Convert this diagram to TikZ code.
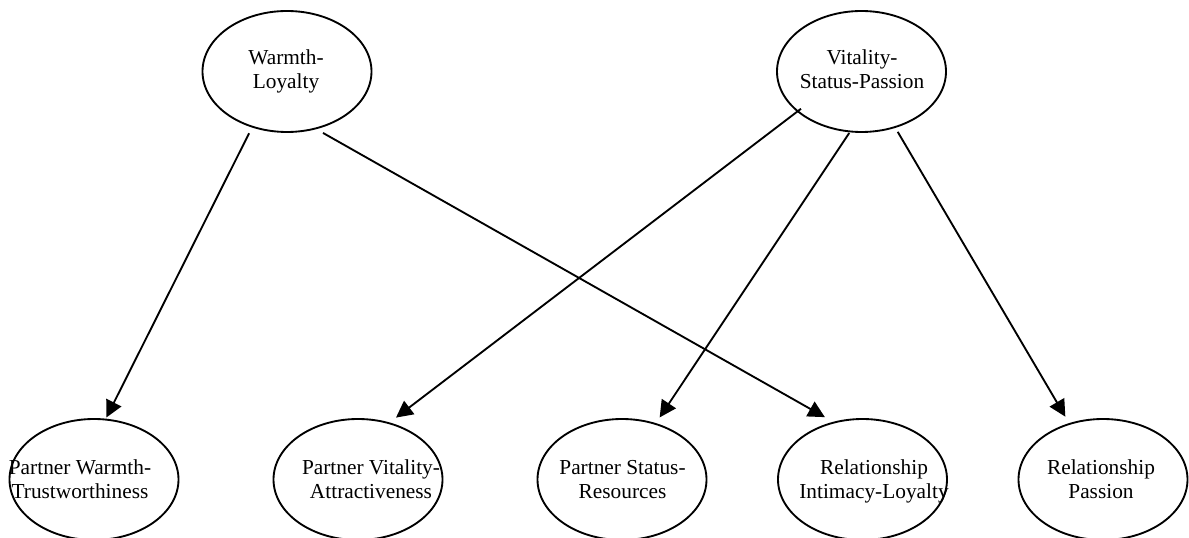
\documentclass[tikz,border=0pt]{standalone}
\usepackage{fontspec}
\setmainfont{Liberation Serif}
\usetikzlibrary{shapes.geometric,arrows.meta}
\begin{document}
\begin{tikzpicture}[x=0.75pt,y=-0.75pt,
  factor/.style={draw, ellipse, line width=1.4pt, minimum width=126.75pt,
    minimum height=90.75pt, inner sep=0pt},
  caption/.style={align=center, inner sep=0pt, font=\fontsize{16}{18}\selectfont},
  link/.style={line width=1.4pt, -{Triangle[length=12.5pt,width=12.5pt]}}]
\useasboundingbox (0,0) rectangle (1189,538);

% latent factors (top row)
\node[factor] (wl)  at (287,71.5)  {};
\node[factor] (vsp) at (861.5,71.5) {};

% indicators (bottom row)
\node[factor] (pw) at (94,479.5)    {};
\node[factor] (pv) at (358,479.5)   {};
\node[factor] (ps) at (622,479.5)   {};
\node[factor] (ri) at (862.5,479.5) {};
\node[factor] (rp) at (1103,479.5)  {};

% labels
\node[caption] (wlt)  at (286,72.2)  {Warmth-\strut\\Loyalty\strut};
\node[caption] (vspt) at (862,72.2)  {Vitality-\strut\\Status-Passion\strut};
\node[caption] (pwt)  at (80,481.2)  {Partner Warmth-\strut\\Trustworthiness\strut};
\node[caption] (pvt)  at (371,481.2) {Partner Vitality-\strut\\Attractiveness\strut};
\node[caption] (pst)  at (622.5,481.2) {Partner Status-\strut\\Resources\strut};
\node[caption] (rit)  at (874,481.2) {Relationship\strut\\Intimacy-Loyalty\strut};
\node[caption] (rpt)  at (1101,481.2) {Relationship\strut\\Passion\strut};

% paths
\draw[link, shorten <=4.8pt, shorten >=1pt]    (wl.238.1)   -- (pw.79.2);
\draw[link, shorten <=5.7pt, shorten >=7.1pt]  (wl.297.4)   -- (ri.117.2);
\draw[link, shorten <=-3.75pt, shorten >=6pt]  (vsp.212)    -- (pv.61.5);
\draw[link, shorten <=0.6pt, shorten >=5.1pt]  (vsp.259.65) -- (ps.59.1);
\draw[link, shorten <=3.45pt, shorten >=5.6pt] (vsp.301.1)  -- (rp.121.7);
\end{tikzpicture}
\end{document}
